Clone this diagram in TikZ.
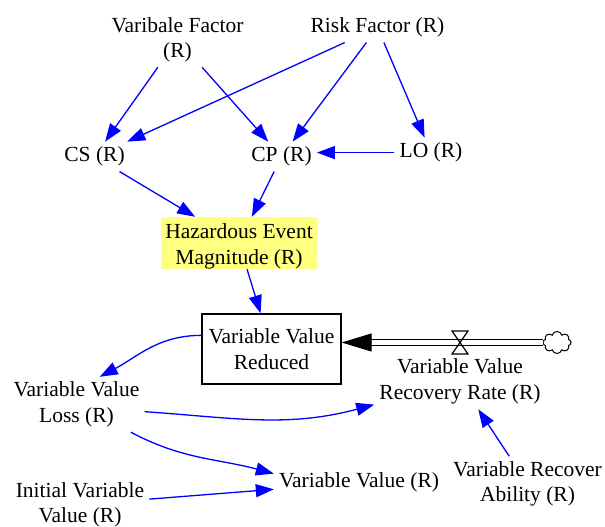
\documentclass[tikz,border=0pt]{standalone}
\usepackage{fontspec}
\setmainfont{Liberation Serif}
\usetikzlibrary{arrows.meta, shapes.symbols}
\definecolor{hazard}{RGB}{255,255,128}

\begin{document}
\begin{tikzpicture}[x=1pt, y=1pt,
    every node/.style={font=\fontsize{21.5}{25.5}\selectfont, align=center},
    var/.style={inner sep=5pt},
    lvl/.style={draw, line width=1.3pt, minimum width=139pt, minimum height=70pt, inner sep=0pt},
    link/.style={draw=blue, line width=1.3pt, -{Triangle[length=18pt, width=13pt]}},
    pipe/.style={double, double distance=5pt, line width=1.2pt}]
            \useasboundingbox (0,0) rectangle (605,-527);
            \node[var] (vf) at (177.5,-39.6) {Varibale Factor\\(R)}; \node[var] (rf) at (377.5,-27.6) {Risk Factor (R)};
            \node[var] (cs) at (94.5,-156.6) {CS (R)}; \node[var] (cp) at (281.5,-156.6) {CP (R)}; \node[var] (lo) at (431,-152.6) {LO (R)};
            \node[fill=hazard, minimum width=156pt, minimum height=52pt, inner sep=0pt, text height=47pt] (hem) at (239,-243) {Hazardous Event\\Magnitude (R)};
            \node[lvl] (vvr) at (271.5,-349) {Variable Value\\Reduced};
            \node[var] (loss) at (76.5,-404.5) {Variable Value\\Loss (R)}; \node[var] (rate) at (460,-381.6) {Variable Value\\Recovery Rate (R)};
            \node[var] (vv) at (359,-482.6) {Variable Value (R)}; \node[var] (init) at (80,-504.6) {Initial Variable\\Value (R)};
            \node[var] (abil) at (527.5,-484) {Variable Recover\\Ability (R)};
            \node[cloud, draw, cloud puffs=8, minimum width=28pt, minimum height=22pt, inner sep=0pt, line width=1pt] (src) at (557,-342.5) {};
            \coordinate (valve) at (460,-342.5); \coordinate (tip) at (vvr.east |- src);
            \draw[pipe] (src) -- ([xshift=29pt]tip);
            \draw[line width=1pt, -{Triangle[length=30pt, width=18pt]}] ([xshift=30pt]tip) -- (tip);
            \draw[line width=1.2pt] (valve) ++(-8,11.5) -- ++(16,0) -- ++(-16,-23) -- ++(16,0) -- cycle;% Valve
            \draw[link] (vf) -- (cs); \draw[link] (vf) -- (cp);
            \draw[link] (rf) -- (cs); \draw[link] (rf) -- (cp); \draw[link] (rf) -- (lo);
            \draw[link] (lo) -- (cp.east |- lo);
            \draw[link] (cs) -- (hem); \draw[link] (cp) -- (hem); \draw[link] (hem) -- (vvr);
            \draw[link] (vvr.169) to[out=180, in=28] (loss.50);
            \draw[link] (loss.-6) to[out=-4, in=195] (rate.195);
            \draw[link] (loss.-27) to[out=-28, in=165] (vv.174);
            \draw[link] (init) -- (vv); \draw[link] (abil) -- (rate);
        \end{tikzpicture}
\end{document}
